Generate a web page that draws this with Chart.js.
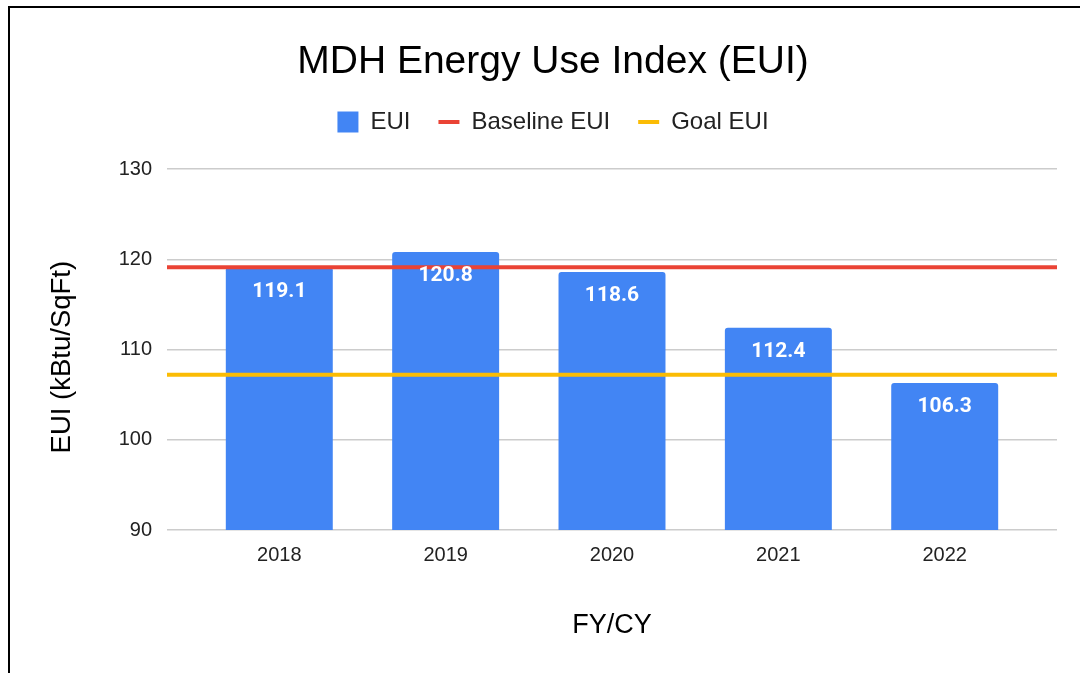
<!DOCTYPE html>
<html lang="en">
<head>
<meta charset="UTF-8" />
<title>MDH Energy Use Index (EUI)</title>
<script src="https://cdn.jsdelivr.net/npm/chart.js@4.4.0/dist/chart.umd.min.js"></script>
<style>
  body { margin: 0; overflow: hidden; background: #fff; }
  #frame { position: absolute; left: 8px; top: 6px; width: 1090px; height: 700px; border: 2px solid #000; }
  canvas { display: block; }
</style>
</head>
<body>
<div id="frame"><canvas id="myChart" width="1086" height="680"></canvas></div>
<script>
const years = ['2018', '2019', '2020', '2021', '2022'];
const eui = [119.1, 120.8, 118.6, 112.4, 106.3];
const baselineEui = [119.1, 119.1];
const goalEui = [107.2, 107.2];
const lineSpan = [0, 1];   // start/end of the full-width reference lines

Chart.defaults.font.family = "'Liberation Sans', Arial, sans-serif";
Chart.defaults.color = '#222';

// white value labels inside the top of each bar
const barLabels = {
  id: 'barLabels',
  afterDatasetsDraw(chart) {
    const ctx = chart.ctx;
    const meta = chart.getDatasetMeta(0);
    ctx.save();
    ctx.font = 'bold 21px Roboto, sans-serif';
    ctx.fillStyle = '#fff';
    ctx.textAlign = 'center';
    ctx.textBaseline = 'middle';
    meta.data.forEach((bar, i) => {
      ctx.fillText(eui[i].toFixed(1), bar.x, bar.y + 24);
    });
    ctx.restore();
  }
};

// a bit of room between legend and plot
const legendGap = {
  id: 'legendGap',
  afterInit(chart) {
    const lg = chart.legend;
    if (!lg || lg._gap) return;
    const fit = lg.fit;
    lg.fit = function () { fit.call(this); this.height += 25; };
    lg._gap = true;
  }
};

const ctx = document.getElementById('myChart').getContext('2d');
const myChart = new Chart(ctx, {
  type: 'bar',
  data: {
    datasets: [{
      label: 'EUI',
      data: eui.map((v, i) => ({ x: i, y: v })),
      backgroundColor: '#4285F4',
      borderRadius: 3,
      barPercentage: 0.643,
      categoryPercentage: 1.0,
      grouped: false,
      order: 2
    }, {
      type: 'line',
      label: 'Baseline EUI',
      data: lineSpan.map((x, i) => ({ x: x, y: baselineEui[i] })),
      xAxisID: 'x2',
      borderColor: '#EA4335',
      backgroundColor: '#EA4335',
      borderWidth: 4,
      pointRadius: 0,
      order: 1
    }, {
      type: 'line',
      label: 'Goal EUI',
      data: lineSpan.map((x, i) => ({ x: x, y: goalEui[i] })),
      xAxisID: 'x2',
      borderColor: '#FBBC04',
      backgroundColor: '#FBBC04',
      borderWidth: 4,
      pointRadius: 0,
      order: 1
    }]
  },
  options: {
    responsive: false,
    animation: false,
    layout: { padding: { left: 39, right: 39, top: 0, bottom: 0 } },
    plugins: {
      tooltip: { enabled: false },
      title: {
        display: true,
        text: 'MDH Energy Use Index (EUI)',
        color: '#000',
        font: { size: 39, weight: 'normal', lineHeight: 1 },
        padding: { top: 35, bottom: 0 }
      },
      legend: {
        position: 'top',
        labels: {
          color: '#222',
          font: { size: 24 },
          usePointStyle: true,
          pointStyleWidth: 21,
          boxHeight: 21,
          padding: 28,
          sort: (a, b) => a.datasetIndex - b.datasetIndex,
          generateLabels(chart) {
            const items = Chart.defaults.plugins.legend.labels.generateLabels(chart);
            items.forEach(it => {
              it.pointStyle = chart.data.datasets[it.datasetIndex].type === 'line' ? 'line' : 'rect';
            });
            return items;
          }
        }
      }
    },
    scales: {
      x: {
        type: 'linear',
        min: -0.675,
        max: 4.675,
        offset: false,
        afterBuildTicks(scale) { scale.ticks = years.map((y, i) => ({ value: i })); },
        grid: { display: false },
        border: { display: false },
        ticks: {
          color: '#222',
          font: { size: 20 },
          padding: 5,
          callback: (v) => years[v]
        },
        title: {
          display: true,
          text: 'FY/CY',
          color: '#000',
          font: { size: 27 },
          padding: { top: 0, bottom: 46 }
        },
        afterFit(scale) { scale.height = 158; }
      },
      x2: {
        type: 'linear',
        display: false,
        min: 0,
        max: 1,
        offset: false
      },
      y: {
        min: 90,
        max: 130,
        ticks: { stepSize: 10, color: '#222', font: { size: 20 }, padding: 15 },
        grid: { color: '#cccccc', lineWidth: 1.5, drawTicks: false },
        border: { display: false },
        title: {
          display: true,
          text: 'EUI (kBtu/SqFt)  ',
          color: '#000',
          font: { size: 27.5, lineHeight: 1 },
          padding: { top: 0, bottom: 0 }
        },
        afterFit(scale) { scale.width = 118; }
      }
    }
  },
  plugins: [barLabels, legendGap]
});
</script>
</body>
</html>
